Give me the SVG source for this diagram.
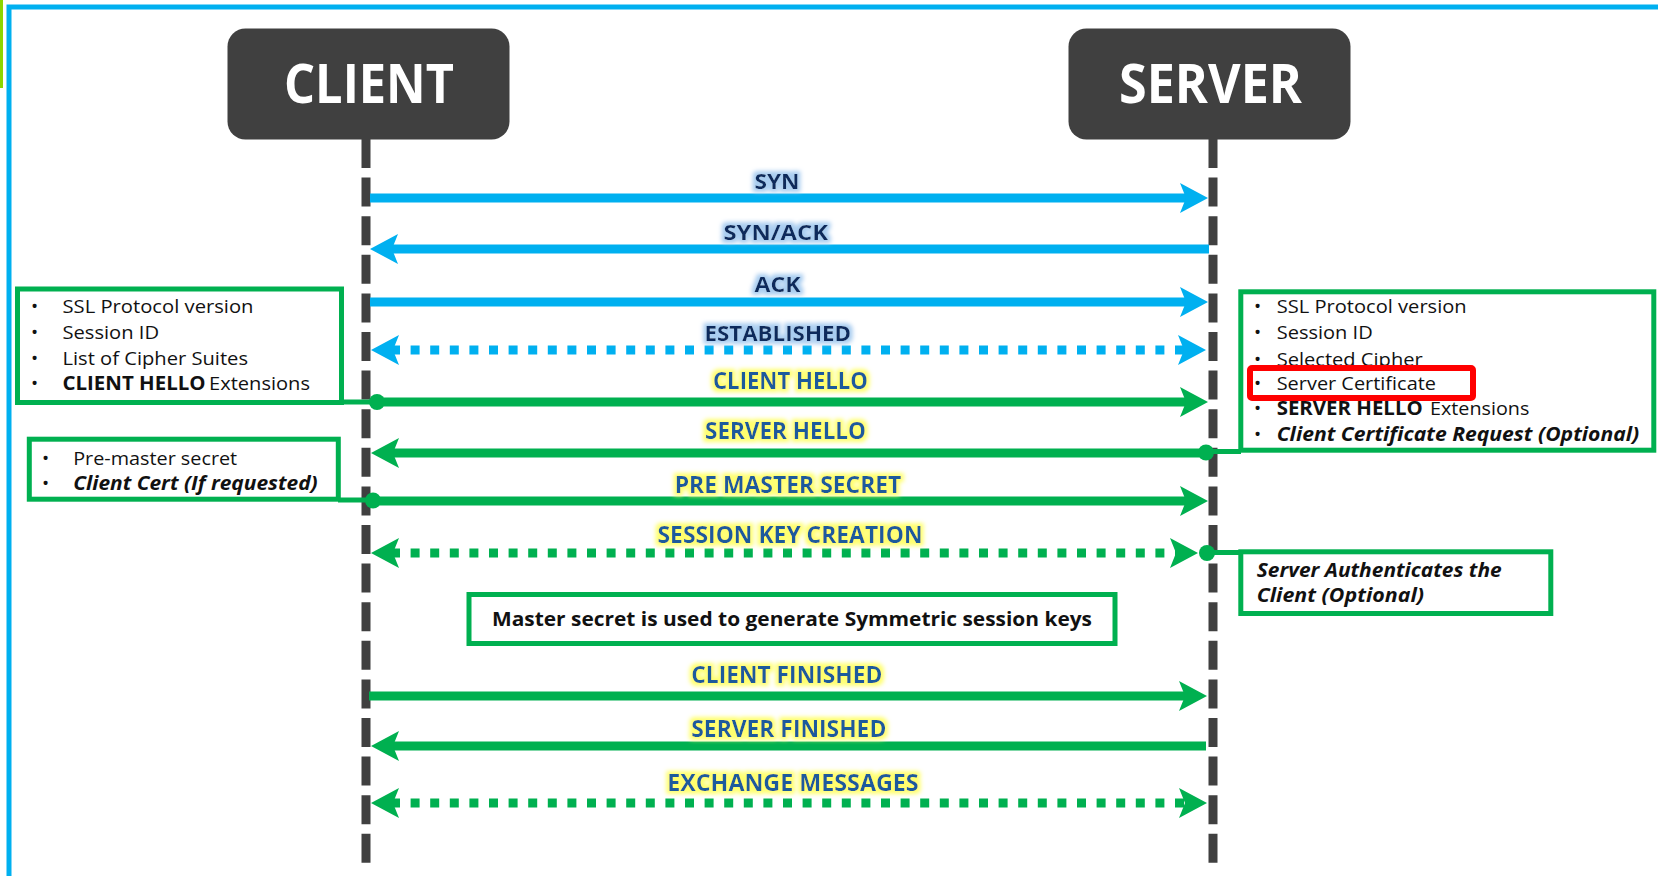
<svg xmlns="http://www.w3.org/2000/svg" width="1658" height="876" viewBox="0 0 1658 876">
<style>
.hdr{fill:#404040}
.hdrt{font-family:'Open Sans','Noto Sans',sans-serif;font-weight:bold;font-size:53px;fill:#fff}
.life{stroke:#404040;stroke-width:9;stroke-dasharray:29 9.6;fill:none}
.bl{stroke:#00B0F0;stroke-width:9;fill:none}
.gr{stroke:#00B050;stroke-width:9;fill:none}
.dot{stroke-dasharray:9 10.6}
.conn{stroke:#00B050;stroke-width:5;fill:none}
.box{fill:#fff;stroke:#00B050;stroke-width:5}
.body{font-family:'Open Sans','Noto Sans',sans-serif;font-size:19px;fill:#111}
.b{font-weight:bold}
.bi{font-weight:bold;font-style:italic}
.lb{font-family:'Open Sans','Noto Sans',sans-serif;font-weight:bold;font-size:21px;fill:#0B2A5B;filter:url(#glowB)}
.ly{font-family:'Open Sans','Noto Sans',sans-serif;font-weight:bold;font-size:23px;fill:#1A5A9C;filter:url(#glowY)}
.pt{fill:#00B050}
</style>
<defs>
<filter id="glowB" x="-20%" y="-50%" width="140%" height="200%">
<feMorphology in="SourceAlpha" operator="dilate" radius="2.5" result="d"/>
<feGaussianBlur in="d" stdDeviation="2" result="bl"/>
<feFlood flood-color="#A9CDF0"/>
<feComposite in2="bl" operator="in" result="g"/>
<feMerge><feMergeNode in="g"/><feMergeNode in="SourceGraphic"/></feMerge>
</filter>
<filter id="glowY" x="-20%" y="-50%" width="140%" height="200%">
<feMorphology in="SourceAlpha" operator="dilate" radius="2.5" result="d"/>
<feGaussianBlur in="d" stdDeviation="2" result="bl"/>
<feFlood flood-color="#FFFF6E"/>
<feComposite in2="bl" operator="in" result="g"/>
<feMerge><feMergeNode in="g"/><feMergeNode in="SourceGraphic"/></feMerge>
</filter>
<marker id="ahb" markerUnits="userSpaceOnUse" viewBox="0 0 30 30" markerWidth="30" markerHeight="30" refX="8" refY="15" orient="auto-start-reverse" overflow="visible">
<path d="M0,0 L28,15 L0,30 L6,15 Z" fill="#00B0F0"/>
</marker>
<marker id="ahg" markerUnits="userSpaceOnUse" viewBox="0 0 30 30" markerWidth="30" markerHeight="30" refX="8" refY="15" orient="auto-start-reverse" overflow="visible">
<path d="M0,0 L28,15 L0,30 L6,15 Z" fill="#00B050"/>
</marker>
</defs>
<rect width="1658" height="876" fill="#fff"/>
<g id="frame">
<rect x="0" y="0" width="3" height="88" fill="#8CD600"/>
<path d="M9,876 V7 H1658" fill="none" stroke="#00B0F0" stroke-width="5"/>
</g>
<g id="client">
<rect class="hdr" x="227.5" y="28.5" width="282" height="111" rx="18"/>
<text class="hdrt" x="284" y="103" textLength="170" lengthAdjust="spacingAndGlyphs">CLIENT</text>
</g>
<g id="server">
<rect class="hdr" x="1068.5" y="28.5" width="282" height="111" rx="18"/>
<text class="hdrt" x="1119" y="103" textLength="183" lengthAdjust="spacingAndGlyphs">SERVER</text>
</g>
<g id="lifelines">
<line class="life" x1="366" y1="139" x2="366" y2="863"/>
<line class="life" x1="1213" y1="139" x2="1213" y2="863"/>
</g>
<g id="client-hello-note">
<rect class="box" x="17.5" y="289" width="324" height="113.5"/>
<g class="body">
<text x="31" y="313">•</text><text x="62.5" y="313" textLength="191" lengthAdjust="spacingAndGlyphs">SSL Protocol version</text>
<text x="31" y="339">•</text><text x="62.5" y="339" textLength="96.5" lengthAdjust="spacingAndGlyphs">Session ID</text>
<text x="31" y="364.5">•</text><text x="62.5" y="364.5" textLength="185.5" lengthAdjust="spacingAndGlyphs">List of Cipher Suites</text>
<text x="31" y="390">•</text><text class="b" x="62.5" y="390" textLength="143" lengthAdjust="spacingAndGlyphs">CLIENT HELLO</text><text x="209" y="390" textLength="101" lengthAdjust="spacingAndGlyphs">Extensions</text>
</g>
</g>
<g id="pre-master-note">
<rect class="box" x="29.3" y="439.2" width="309" height="60"/>
<g class="body">
<text x="42" y="465">•</text><text x="73.2" y="465" textLength="164" lengthAdjust="spacingAndGlyphs">Pre-master secret</text>
<text x="42" y="490">•</text><text class="bi" x="73.2" y="490" textLength="244.5" lengthAdjust="spacingAndGlyphs">Client Cert (If requested)</text>
</g>
</g>
<g id="server-hello-note">
<rect class="box" x="1240.8" y="291.8" width="413" height="158.4"/>
<g class="body">
<text x="1254" y="313.3">•</text><text x="1276.7" y="313.3" textLength="190" lengthAdjust="spacingAndGlyphs">SSL Protocol version</text>
<text x="1254" y="338.8">•</text><text x="1276.7" y="338.8" textLength="96" lengthAdjust="spacingAndGlyphs">Session ID</text>
<text x="1254" y="366">•</text><text x="1276.7" y="366" textLength="146" lengthAdjust="spacingAndGlyphs">Selected Cipher</text>
</g>
<rect x="1250" y="368" width="223" height="30" rx="2" fill="#fff" stroke="#FF0000" stroke-width="6"/>
<g class="body">
<text x="1254" y="389.8">•</text><text x="1276.7" y="389.8" textLength="159.3" lengthAdjust="spacingAndGlyphs">Server Certificate</text>
<text x="1254" y="415.3">•</text><text class="b" x="1276.7" y="415.3" textLength="146" lengthAdjust="spacingAndGlyphs">SERVER HELLO</text><text x="1430" y="415.3" textLength="99.3" lengthAdjust="spacingAndGlyphs">Extensions</text>
<text x="1254" y="440.8">•</text><text class="bi" x="1276.7" y="440.8" textLength="362.5" lengthAdjust="spacingAndGlyphs">Client Certificate Request (Optional)</text>
</g>
</g>
<g id="server-auth-note">
<rect class="box" x="1240.8" y="551.8" width="310" height="61.7"/>
<g class="body">
<text class="bi" x="1256.7" y="576.7" textLength="245" lengthAdjust="spacingAndGlyphs">Server Authenticates the</text>
<text class="bi" x="1256.7" y="601.7" textLength="167.3" lengthAdjust="spacingAndGlyphs">Client (Optional)</text>
</g>
</g>
<g id="master-note">
<rect class="box" x="469" y="594.5" width="646" height="49"/>
<text class="body b" x="492" y="625.5" font-size="22" textLength="600" lengthAdjust="spacingAndGlyphs">Master secret is used to generate Symmetric session keys</text>
</g>
<g id="connectors">
<line class="bl" x1="370" y1="198" x2="1188" y2="198" marker-end="url(#ahb)"/>
<line class="bl" x1="1209" y1="249" x2="390" y2="249" marker-end="url(#ahb)"/>
<line class="bl" x1="370" y1="302" x2="1188" y2="302" marker-end="url(#ahb)"/>
<line class="bl dot" x1="391" y1="350" x2="1186" y2="350" marker-start="url(#ahb)" marker-end="url(#ahb)"/>
<line class="conn" x1="341" y1="402" x2="377" y2="402"/>
<line class="gr" x1="377" y1="402" x2="1188" y2="402" marker-end="url(#ahg)"/>
<circle class="pt" cx="377" cy="402" r="8"/>
<line class="conn" x1="1206" y1="451.5" x2="1241" y2="451.5"/>
<line class="gr" x1="1206" y1="453" x2="391" y2="453" marker-end="url(#ahg)"/>
<circle class="pt" cx="1206" cy="452.5" r="8"/>
<line class="conn" x1="338" y1="500" x2="373" y2="500"/>
<line class="gr" x1="373" y1="501" x2="1188" y2="501" marker-end="url(#ahg)"/>
<circle class="pt" cx="373" cy="500.5" r="8"/>
<line class="gr dot" x1="391" y1="553" x2="1178" y2="553" marker-start="url(#ahg)" marker-end="url(#ahg)"/>
<line class="conn" x1="1207" y1="552.5" x2="1241" y2="552.5"/>
<circle class="pt" cx="1207" cy="553" r="8"/>
<line class="gr" x1="369" y1="696" x2="1187" y2="696" marker-end="url(#ahg)"/>
<line class="gr" x1="1206" y1="746" x2="391" y2="746" marker-end="url(#ahg)"/>
<line class="gr dot" x1="391" y1="803" x2="1187" y2="803" marker-start="url(#ahg)" marker-end="url(#ahg)"/>
</g>
<g id="labels">
<text class="lb" x="754.5" y="189" textLength="45" lengthAdjust="spacingAndGlyphs">SYN</text>
<text class="lb" x="723.5" y="240" textLength="104.5" lengthAdjust="spacingAndGlyphs">SYN/ACK</text>
<text class="lb" x="754.5" y="292" textLength="46" lengthAdjust="spacingAndGlyphs">ACK</text>
<text class="lb" x="704.5" y="341" textLength="146.5" lengthAdjust="spacingAndGlyphs">ESTABLISHED</text>
<text class="ly" x="713" y="389.3" textLength="155" lengthAdjust="spacingAndGlyphs">CLIENT HELLO</text>
<text class="ly" x="705" y="439.3" textLength="161" lengthAdjust="spacingAndGlyphs">SERVER HELLO</text>
<text class="ly" x="674.7" y="492.7" textLength="226.7" lengthAdjust="spacingAndGlyphs">PRE MASTER SECRET</text>
<text class="ly" x="657.5" y="542.7" textLength="265" lengthAdjust="spacingAndGlyphs">SESSION KEY CREATION</text>
<text class="ly" x="691.3" y="683.3" textLength="191" lengthAdjust="spacingAndGlyphs">CLIENT FINISHED</text>
<text class="ly" x="691.3" y="736.7" textLength="195" lengthAdjust="spacingAndGlyphs">SERVER FINISHED</text>
<text class="ly" x="667.2" y="790.7" textLength="251.5" lengthAdjust="spacingAndGlyphs">EXCHANGE MESSAGES</text>
</g>
</svg>
